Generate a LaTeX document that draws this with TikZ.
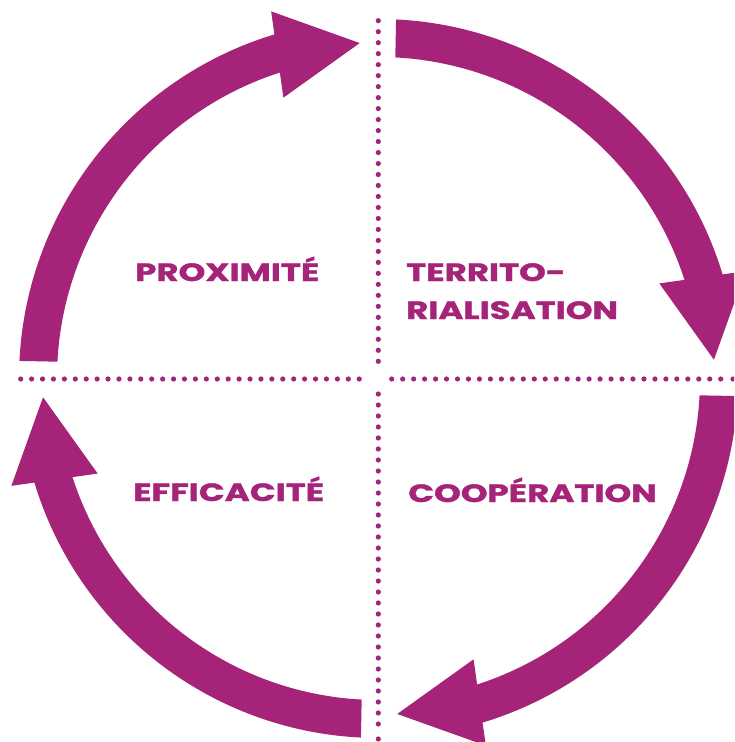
\documentclass[tikz,border=0pt]{standalone}
\usepackage{fontspec}
\setmainfont{Poppins}[BoldFeatures={FakeBold=1.2}]
\definecolor{plum}{RGB}{165,35,120}
\tikzset{
  arrowfill/.style={fill=plum},
  dotfill/.style={fill=plum},
  label/.style={anchor=base west, inner sep=0pt, text=plum, font=\bfseries\fontsize{25}{30}\selectfont}
}
\newcommand\wide[1]{\scalebox{1.36}[1]{#1}}
\newcommand\cyclearrow[1]{%
  \begin{scope}[rotate=#1]
    \fill[arrowfill] (177.2:359.5) arc[start angle=177.2, end angle=106.5, radius=359.5]
      -- (106.5:321.5) arc[start angle=106.5, end angle=177.0, radius=321.5] -- cycle;
    \fill[arrowfill] (106.3:382.5) -- (93.2:336) -- (108.7:296.5) -- cycle;
  \end{scope}}
\begin{document}
\begin{tikzpicture}[x=1pt,y=1pt]
\useasboundingbox (-378.5,-363.5) rectangle (355.5,378.5);
\clip (-378.5,-363.5) rectangle (355.5,378.5);
% dotted axes
\foreach \i in {0,...,31} \fill[dotfill] (-0.2,357.8-\i*10.987) circle (2.6);
\foreach \i in {0,...,30} \fill[dotfill] (-0.2,-15.5-\i*11) circle (2.6);
\fill[dotfill] (-0.2,-360.5) circle (2.6);
\foreach \i in {0,...,31} \fill[dotfill] (-357.8+\i*10.92,-0.5) circle (2.6);
\foreach \i in {0,...,30} \fill[dotfill] (13.2+\i*10.967,-0.5) circle (2.6);
\fill[dotfill] (354.5,-0.5) circle (2.6);
% arrows
\cyclearrow{0}
\cyclearrow{-90}
\cyclearrow{-180}
\cyclearrow{-270}
% labels
\node[label] (prox) at (-243.5,97.5) {\wide{PROXIMITÉ}};
\node[label] (terr1) at (27.5,97.5) {\wide{TERRITO-}};
\node[label] (terr2) at (27.5,59.5) {\wide{RIALISATION}};
\node[label] (effi) at (-245.5,-122.5) {\wide{EFFICACITÉ}};
\node[label] (coop) at (29.5,-123.5) {\wide{COOPÉRATION}};
\end{tikzpicture}
\end{document}
